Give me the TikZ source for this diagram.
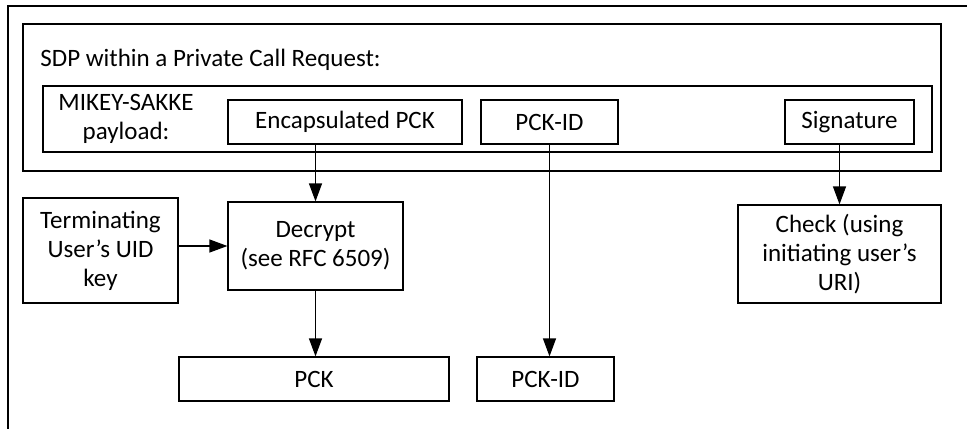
\documentclass[tikz,border=0pt]{standalone}
\usepackage{fontspec}
\setmainfont{Carlito}
\usetikzlibrary{arrows.meta}

\tikzset{
  box/.style 2 args={draw, line width=0.6pt, inner sep=0pt, align=center,
    minimum width=#1*0.5pt, minimum height=#2*0.5pt},
  flow/.style={-{Triangle[length=9pt,width=6.5pt]}, line width=0.6pt},
}

\begin{document}
\begin{tikzpicture}[x=0.5pt, y=-0.5pt, font=\fontsize{12.5}{14.5}\selectfont]

% paper size (px):
\pgfmathsetmacro\pwidth{967};
\pgfmathsetmacro\pheight{428};

\useasboundingbox (0,0) rectangle (\pwidth,\pheight);
\clip (0,0) rectangle (\pwidth,\pheight);

% outer frame runs off the page
\draw[line width=0.6pt] (8,6) rectangle (\pwidth+20,\pheight+20);

% SDP and MIKEY-SAKKE containers
\node[box={918}{147}] (sdp) at (482,97.5) {};
\node[anchor=base west, inner sep=0pt] (sdptext) at (40,66) {SDP within a Private Call Request:};
\node[box={889}{66}] (mikey) at (487.5,119) {};
\node[align=center] (mikeytext) at (126,119) {MIKEY-SAKKE\\payload:};

% payload fields
\node[box={234}{44}] (encap) at (345,122) {Encapsulated PCK};
\node[box={137}{44}] (pckid) at (549.5,122) {PCK-ID};
\node[box={129}{44}] (sig) at (849.5,122) {Signature};

% processing
\node[box={155}{105}] (term) at (100.5,250.5) {Terminating\\User's UID\\key};
\node[box={175}{88}] (decrypt) at (315.5,246) {Decrypt\\(see RFC 6509)};
\node[box={203}{98}] (check) at (839.5,254) {Check (using\\initiating user's\\URI)};

% results
\node[box={270}{44}] (pck) at (314,379) {PCK};
\node[box={137}{44}] (pckidout) at (545.5,379) {PCK-ID};

\draw[flow] (decrypt.north |- encap.south) -- (decrypt);
\draw[flow] (term.east |- decrypt.west) -- (decrypt);
\draw[flow] (decrypt) -- (decrypt.south |- pck.north);
\draw[flow] (pckid) -- (pckid.south |- pckidout.north);
\draw[flow] (check.north |- sig.south) -- (check);

\end{tikzpicture}
\end{document}
